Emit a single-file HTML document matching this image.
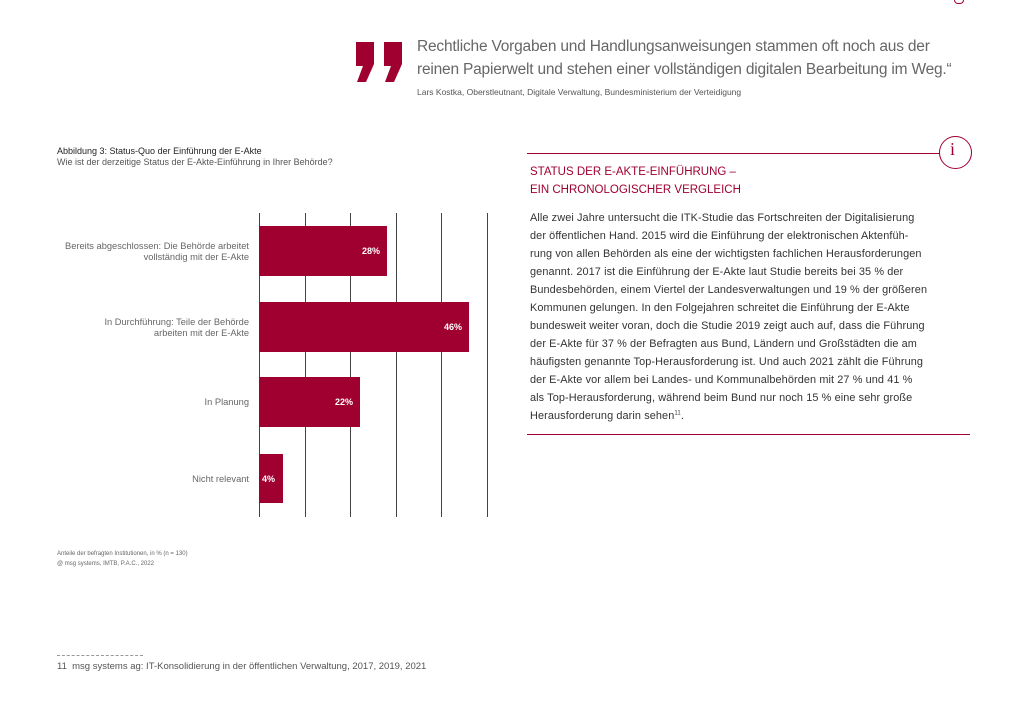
<!DOCTYPE html>
<html><head><meta charset="utf-8"><style>
body{margin:0;width:1024px;height:707px;background:#fff;position:relative;overflow:hidden;font-family:"Liberation Sans",sans-serif;}
.a{position:absolute;white-space:nowrap;}
.q{color:#666;font-size:15.5px;letter-spacing:-0.2px;}
.b{color:#333;font-size:10.9px;left:530px;letter-spacing:0.1px;}
.lab{color:#666;font-size:9.3px;text-align:right;right:775px;line-height:11px;}
.bar{position:absolute;background:#a00030;}
.pct{position:absolute;color:#fff;font-size:9px;font-weight:bold;}
.g{position:absolute;top:213px;height:304px;width:1px;background:#444;}
</style></head><body>
<svg class="a" style="left:352px;top:40px" width="56" height="44" viewBox="0 0 56 44">
<path d="M4 2h18v22l-8 18h-9l6-16h-7z" fill="#a00030"/>
<path d="M32 2h18v22l-8 18h-9l6-16h-7z" fill="#a00030"/>
</svg>
<div class="a q" style="left:417px;top:38px;">Rechtliche Vorgaben und Handlungsanweisungen stammen oft noch aus der</div>
<div class="a q" style="left:417px;top:61px;">reinen Papierwelt und stehen einer vollständigen digitalen Bearbeitung im Weg.“</div>
<div class="a" style="left:417px;top:87px;color:#555;font-size:8.5px;">Lars Kostka, Oberstleutnant, Digitale Verwaltung, Bundesministerium der Verteidigung</div>
<div class="a" style="left:954px;top:0;width:8px;height:3px;border:1px solid #a00030;border-top:none;border-radius:0 0 4px 4px;"></div>

<div class="a" style="left:57px;top:146px;color:#222;font-size:9px;">Abbildung 3: Status-Quo der Einführung der E-Akte</div>
<div class="a" style="left:57px;top:157px;color:#555;font-size:9px;">Wie ist der derzeitige Status der E-Akte-Einführung in Ihrer Behörde?</div>

<div class="g" style="left:259px"></div><div class="g" style="left:305px"></div><div class="g" style="left:350px"></div><div class="g" style="left:396px"></div><div class="g" style="left:441px"></div><div class="g" style="left:487px"></div>

<div class="bar" style="left:259px;top:226px;width:128px;height:50px"></div>
<div class="pct" style="left:362px;top:246px">28%</div>
<div class="bar" style="left:259px;top:302px;width:210px;height:50px"></div>
<div class="pct" style="left:444px;top:322px">46%</div>
<div class="bar" style="left:259px;top:377px;width:101px;height:50px"></div>
<div class="pct" style="left:335px;top:397px">22%</div>
<div class="bar" style="left:259px;top:454px;width:24px;height:49px"></div>
<div class="pct" style="left:262px;top:474px">4%</div>

<div class="a lab" style="top:241px;">Bereits abgeschlossen: Die Behörde arbeitet<br>vollständig mit der E-Akte</div>
<div class="a lab" style="top:317px;">In Durchführung: Teile der Behörde<br>arbeiten mit der E-Akte</div>
<div class="a lab" style="top:397px;">In Planung</div>
<div class="a lab" style="top:474px;">Nicht relevant</div>

<div class="a" style="left:57px;top:549px;color:#666;font-size:6px;line-height:10px;">Anteile der befragten Institutionen, in % (n = 130)<br>@ msg systems, IMTB, P.A.C., 2022</div>

<div class="a" style="left:57px;top:655px;width:86px;border-top:1px dashed #999;"></div>
<div class="a" style="left:57px;top:661px;color:#555;font-size:9.5px;">11&nbsp; msg systems ag: IT-Konsolidierung in der öffentlichen Verwaltung, 2017, 2019, 2021</div>

<div class="a" style="left:527px;top:153px;width:413px;height:1px;background:#a00030;"></div>
<div class="a" style="left:939px;top:136px;width:31px;height:31px;border:1px solid #a00030;border-radius:50%;"></div>
<div class="a" style="left:950px;top:139px;color:#a00030;font-size:18px;font-family:'Liberation Serif',serif;">i</div>
<div class="a" style="left:530px;top:163px;color:#a00030;font-size:11.5px;line-height:18px;">STATUS DER E-AKTE-EINFÜHRUNG –<br>EIN CHRONOLOGISCHER VERGLEICH</div>

<div class="a b" style="top:212px;">Alle zwei Jahre untersucht die ITK-Studie das Fortschreiten der Digitalisierung</div>
<div class="a b" style="top:230px;">der öffentlichen Hand. 2015 wird die Einführung der elektronischen Aktenfüh-</div>
<div class="a b" style="top:248px;">rung von allen Behörden als eine der wichtigsten fachlichen Herausforderungen</div>
<div class="a b" style="top:266px;">genannt. 2017 ist die Einführung der E-Akte laut Studie bereits bei 35 % der</div>
<div class="a b" style="top:284px;">Bundesbehörden, einem Viertel der Landesverwaltungen und 19 % der größeren</div>
<div class="a b" style="top:302px;">Kommunen gelungen. In den Folgejahren schreitet die Einführung der E-Akte</div>
<div class="a b" style="top:320px;">bundesweit weiter voran, doch die Studie 2019 zeigt auch auf, dass die Führung</div>
<div class="a b" style="top:338px;">der E-Akte für 37 % der Befragten aus Bund, Ländern und Großstädten die am</div>
<div class="a b" style="top:356px;">häufigsten genannte Top-Herausforderung ist. Und auch 2021 zählt die Führung</div>
<div class="a b" style="top:374px;">der E-Akte vor allem bei Landes- und Kommunalbehörden mit 27 % und 41 %</div>
<div class="a b" style="top:392px;">als Top-Herausforderung, während beim Bund nur noch 15 % eine sehr große</div>
<div class="a b" style="top:410px;">Herausforderung darin sehen<sup style="font-size:6px">11</sup>.</div>
<div class="a" style="left:527px;top:434px;width:443px;height:1px;background:#a00030;"></div>
</body></html>
